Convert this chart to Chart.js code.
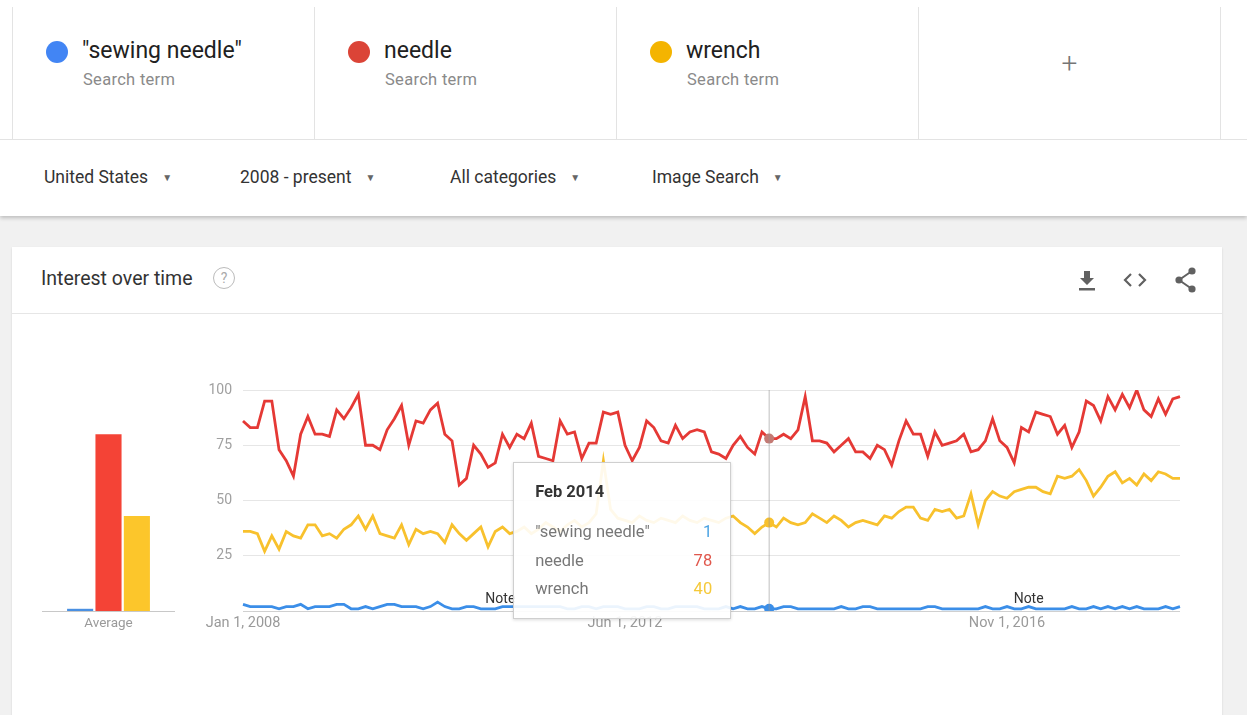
<!DOCTYPE html>
<html>
<head>
<meta charset="utf-8">
<script src="https://cdn.jsdelivr.net/npm/chart.js@4.4.1/dist/chart.umd.min.js"></script>
<style>
  html, body { margin: 0; padding: 0; }
  body { width: 1247px; height: 715px; background: #f1f1f1; font-family: Roboto, "Noto Sans", sans-serif; position: relative; overflow: hidden; }
  .top { position: absolute; left: 0; top: 0; width: 1247px; height: 216px; background: #fff; box-shadow: 0 2px 4px rgba(0,0,0,0.22); }
  .terms { position: absolute; left: 12px; top: 7px; width: 1209px; height: 132px; border-left: 1px solid #e3e3e3; }
  .hline { position: absolute; left: 0; top: 139px; width: 1247px; height: 1px; background: #e3e3e3; }
  .cell { position: absolute; top: 0; height: 132px; width: 301px; border-right: 1px solid #e3e3e3; }
  .dot { position: absolute; left: 33px; top: 34px; width: 22px; height: 22px; border-radius: 50%; }
  .term { position: absolute; left: 69px; top: 30px; font-size: 23px; color: #212121; }
  .sub { position: absolute; left: 70px; top: 63px; font-size: 16.5px; letter-spacing: 0.3px; color: #8a8a8a; }
  .plus { position: absolute; left: 0; width: 301px; top: 40px; text-align: center; font-size: 28px; color: #757575; font-weight: 300; }
  .filter { position: absolute; top: 167px; font-size: 17.5px; color: #333; }
  .filter span { font-size: 10px; color: #666; margin-left: 14px; position: relative; top: -2px; }
  .card { position: absolute; left: 12px; top: 247px; width: 1210px; height: 480px; background: #fff; box-shadow: 0 1px 2px rgba(0,0,0,0.12); }
  .card-head { position: absolute; left: 0; top: 0; width: 1210px; height: 66px; border-bottom: 1px solid #e6e6e6; }
  .title { position: absolute; left: 29px; top: 20px; font-size: 19.5px; color: #333; }
  .help { position: absolute; left: 201px; top: 20px; width: 20px; height: 20px; border: 1.5px solid #bbb; border-radius: 50%; color: #aaa; font-size: 14px; text-align: center; line-height: 20px; }
  #avgWrap { position: absolute; left: 30px; top: 380px; width: 145px; height: 256px; }
  #lineWrap { position: absolute; left: 190px; top: 370px; width: 1002px; height: 266px; }
  #tip { position: absolute; background: rgba(255,255,255,0.9); border: 1px solid #cfcfcf; box-shadow: 0 1px 3px rgba(0,0,0,0.15); font-size: 16.5px; }
  #tip .t { position: absolute; left: 21px; top: 19px; font-weight: bold; color: #333; }
  #tip .r { position: absolute; left: 21px; right: 18px; color: #777; }
  #tip .r b { position: absolute; right: 0; font-weight: normal; }
</style>
</head>
<body>
<div class="top">
  <div class="terms">
    <div class="cell" style="left:0"><div class="dot" style="background:#4285f4"></div><div class="term">"sewing needle"</div><div class="sub">Search term</div></div>
    <div class="cell" style="left:302px"><div class="dot" style="background:#db4437"></div><div class="term">needle</div><div class="sub">Search term</div></div>
    <div class="cell" style="left:604px"><div class="dot" style="background:#f4b400"></div><div class="term">wrench</div><div class="sub">Search term</div></div>
    <div class="cell" style="left:906px"><div class="plus">+</div></div>
  </div>
  <div class="hline"></div>
  <div class="filter" style="left:44px">United States<span>▼</span></div>
  <div class="filter" style="left:240px">2008 - present<span>▼</span></div>
  <div class="filter" style="left:450px">All categories<span>▼</span></div>
  <div class="filter" style="left:652px">Image Search<span>▼</span></div>
</div>

<div class="card">
  <div class="card-head">
    <div class="title">Interest over time</div>
    <div class="help">?</div>
    <svg style="position:absolute;left:1064px;top:21px" width="22" height="24" viewBox="0 0 22 24">
      <path d="M8 3h6v7h4l-7 7-7-7h4z" fill="#616161"/><rect x="3" y="20" width="16" height="2.5" fill="#616161"/>
    </svg>
    <svg style="position:absolute;left:1110px;top:24px" width="26" height="18" viewBox="0 0 26 18">
      <path d="M9 3L3 9l6 6M17 3l6 6-6 6" stroke="#616161" stroke-width="2.2" fill="none"/>
    </svg>
    <svg style="position:absolute;left:1162px;top:20px" width="24" height="26" viewBox="0 0 24 26">
      <circle cx="18" cy="4" r="3.6" fill="#616161"/><circle cx="5" cy="13" r="3.6" fill="#616161"/><circle cx="18" cy="22" r="3.6" fill="#616161"/>
      <path d="M18 4L5 13l13 9" stroke="#616161" stroke-width="2" fill="none"/>
    </svg>
  </div>
</div>

<div id="avgWrap"><canvas id="avgChart"></canvas></div>
<div id="lineWrap"><canvas id="lineChart"></canvas></div>
<div id="tip"></div>

<script>
// search terms and colours
var terms = ['"sewing needle"', 'needle', 'wrench']
var lineColors = ['#3b8ee8', '#e53935', '#f8c12d']
var barColors = ['#4a90e2', '#f44336', '#fcc62b']
var tipColors = ['#4ba3e3', '#e0574c', '#f5c93a']

// averages over the whole period
var averages = [1, 80, 43]

// monthly values, Jan 2008 - Nov 2018
var sewingNeedle = [
  3,2,2,2,2,1,2,2,3,1, 2,2,2,3,3,1,1,2,1,2, 3,3,2,2,2,1,2,4,2,1,
  1,2,2,1,1,1,2,2,2,2, 2,2,2,2,2,1,1,2,2,1, 2,2,2,1,1,1,2,2,1,1,
  2,2,2,2,1,1,1,2,1,2, 1,1,2,1,1,2,2,1,1,1, 1,1,1,2,1,1,2,2,1,1,
  1,1,1,1,1,2,2,1,1,1, 1,1,1,2,1,1,2,1,1,2, 1,1,1,1,1,2,1,1,2,1,
  2,1,2,1,2,1,1,1,2,1,2
]
var needle = [
  86,83,83,95,95,73,68,61,80,88, 80,80,79,91,87,92,98,75,75,73,
  82,87,93,75,86,85,91,94,80,77, 57,60,75,71,65,67,80,74,80,78,
  85,70,69,68,86,80,81,69,76,76, 90,89,90,75,68,74,86,83,77,76,
  84,78,81,82,81,72,71,69,75,79, 74,71,81,78,78,80,78,82,97,77,
  77,76,72,75,78,72,72,69,75,73, 66,77,86,80,80,70,81,75,76,77,
  80,72,73,77,87,77,74,67,83,81, 90,89,88,80,84,74,81,95,93,86,
  97,91,98,92,100,91,88,96,89,96,97
]
var wrench = [
  36,36,35,27,34,28,36,34,33,39, 39,34,35,33,37,39,43,37,43,35,
  34,33,39,30,37,35,36,35,31,39, 35,32,35,38,29,36,38,35,36,38,
  35,37,40,38,36,39,41,38,40,44, 68,46,42,41,40,43,41,40,42,41,
  40,43,41,40,42,41,40,42,43,40, 38,35,38,40,38,42,40,39,40,44,
  42,40,43,41,38,40,41,40,39,43, 42,45,47,47,42,41,46,45,46,42,
  43,53,39,50,54,52,51,54,55,56, 56,54,53,61,60,61,64,59,52,56,
  61,63,58,60,57,62,59,63,62,60,60
]

var monthNames = ['Jan','Feb','Mar','Apr','May','Jun','Jul','Aug','Sep','Oct','Nov','Dec']
var months = []
for (var i = 0; i < needle.length; i++) {
  months.push(monthNames[i % 12] + ' ' + (2008 + Math.floor(i / 12)))
}

// x tick labels shown under the line chart
var tickIndex = [0, 53, 106]
var tickText = ['Jan 1, 2008', 'Jun 1, 2012', 'Nov 1, 2016']

// "Note" markers
var noteIndex = [35.7, 109]

var hoverIdx = 73
var seriesData = [sewingNeedle, needle, wrench]

Chart.defaults.font.family = 'Roboto, "Noto Sans", sans-serif'

new Chart(document.getElementById('avgChart'), {
  type: 'bar',
  data: {
    labels: ['Average'],
    datasets: terms.map(function(t, i) {
      return { label: t, data: [averages[i]], backgroundColor: barColors[i], categoryPercentage: 0.64, barPercentage: 0.92 }
    })
  },
  options: {
    animation: false,
    responsive: true,
    maintainAspectRatio: false,
    layout: { padding: { left: 12, right: 0, top: 10, bottom: 0 } },
    plugins: { legend: { display: false }, tooltip: { enabled: false } },
    scales: {
      y: { display: false, min: 0, max: 100 },
      x: {
        grid: { display: false, drawTicks: false },
        border: { color: '#c8c8c8', width: 1 },
        ticks: { color: '#9a9a9a', font: { size: 13.5 }, padding: 5 },
        afterFit: function(s) { s.height = 25 }
      }
    }
  }
})

var extras = {
  id: 'extras',
  afterDatasetsDraw: function(chart) {
    var ctx = chart.ctx
    var x = chart.scales.x.getPixelForValue(hoverIdx)
    var a = chart.chartArea
    ctx.save()
    ctx.strokeStyle = 'rgba(150,150,150,0.6)'
    ctx.lineWidth = 1
    ctx.beginPath()
    ctx.moveTo(x, a.top)
    ctx.lineTo(x, a.bottom)
    ctx.stroke()
    ctx.fillStyle = '#333'
    ctx.font = '14px Roboto'
    ctx.textAlign = 'center'
    noteIndex.forEach(function(n) {
      ctx.fillText('Note', chart.scales.x.getPixelForValue(n), a.bottom - 8)
    })
    ctx.restore()
  }
}

var lineChart = new Chart(document.getElementById('lineChart'), {
  type: 'line',
  data: {
    labels: months,
    datasets: [2, 1, 0].map(function(i) {
      return {
        label: terms[i],
        data: seriesData[i],
        borderColor: lineColors[i],
        backgroundColor: i === 1 ? '#c47a74' : lineColors[i],
        borderWidth: 2.8,
        tension: 0,
        pointRadius: function(c) { return c.dataIndex === hoverIdx ? 5 : 0 },
        pointBorderWidth: 0
      }
    })
  },
  options: {
    animation: false,
    responsive: true,
    maintainAspectRatio: false,
    layout: { padding: { left: 0, right: 12, top: 20, bottom: 0 } },
    plugins: { legend: { display: false }, tooltip: { enabled: false } },
    scales: {
      y: {
        min: 0, max: 100,
        border: { display: false },
        grid: {
          drawTicks: false,
          color: function(c) { return c.tick.value === 0 ? '#d0d0d0' : '#e6e6e6' }
        },
        ticks: {
          stepSize: 25, padding: 11, color: '#a0a0a0', font: { size: 14 },
          callback: function(v) { return v === 0 ? '' : v }
        },
        afterFit: function(s) { s.width = 53 }
      },
      x: {
        grid: { display: false, drawTicks: false },
        border: { display: false },
        ticks: {
          autoSkip: false, maxRotation: 0, padding: 4, color: '#9a9a9a', font: { size: 14.5 },
          callback: function(v, i) {
            var k = tickIndex.indexOf(i)
            return k >= 0 ? tickText[k] : ''
          }
        },
        afterFit: function(s) { s.height = 25 }
      }
    }
  },
  plugins: [extras]
})

// tooltip box for the hovered month
var tip = document.getElementById('tip')
var px = lineChart.scales.x.getPixelForValue(hoverIdx) + 190
var bottom = lineChart.chartArea.bottom + 370
tip.style.width = '216px'
tip.style.height = '155px'
tip.style.left = (px - 40 - 216) + 'px'
tip.style.top = (bottom + 6 - 155) + 'px'
var html = '<div class="t">' + months[hoverIdx] + '</div>'
terms.forEach(function(t, i) {
  html += '<div class="r" style="top:' + (59 + i * 28.5) + 'px">' + t +
    '<b style="color:' + tipColors[i] + '">' + seriesData[i][hoverIdx] + '</b></div>'
})
tip.innerHTML = html
</script>
</body>
</html>
